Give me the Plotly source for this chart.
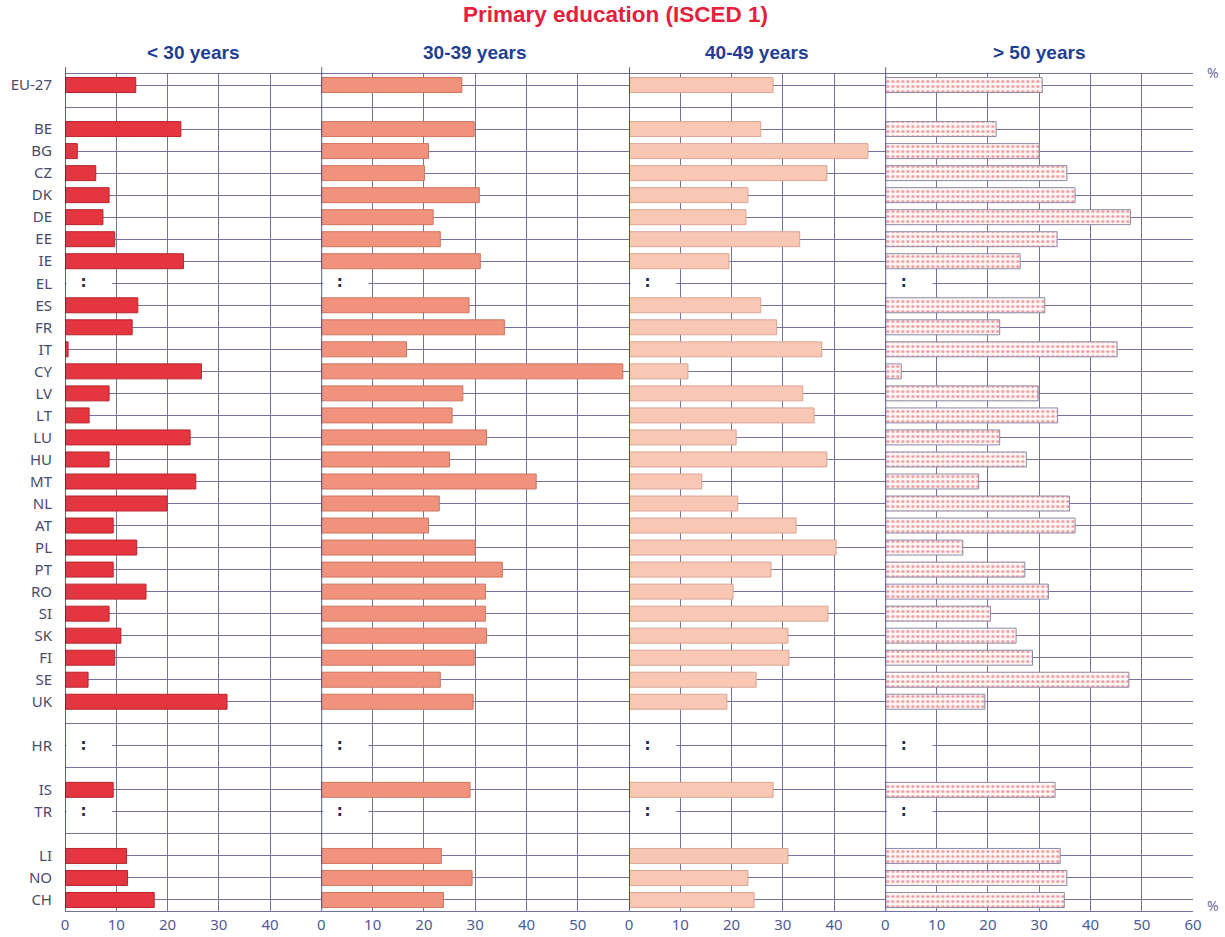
import plotly.graph_objects as go
from plotly.subplots import make_subplots

# ---------------- data ----------------
countries = ["EU-27", "", "BE", "BG", "CZ", "DK", "DE", "EE", "IE", "EL", "ES", "FR", "IT", "CY",
             "LV", "LT", "LU", "HU", "MT", "NL", "AT", "PL", "PT", "RO", "SI", "SK", "FI", "SE",
             "UK", "", "HR", "", "IS", "TR", "", "LI", "NO", "CH"]
missing = ["EL", "HR", "TR"]

age_groups = ["< 30 years", "30-39 years", "40-49 years", "> 50 years"]

under_30 = [13.8, None, 22.6, 2.4, 6.0, 8.6, 7.4, 9.7, 23.1, None, 14.2, 13.1, 0.6, 26.6,
            8.6, 4.7, 24.4, 8.6, 25.5, 19.9, 9.4, 14.0, 9.4, 15.8, 8.6, 10.9, 9.7, 4.5,
            31.6, None, None, None, 9.4, None, None, 12.0, 12.2, 17.4]
age_30_39 = [27.4, None, 29.8, 20.9, 20.1, 30.8, 21.8, 23.2, 31.0, None, 28.8, 35.7, 16.6, 58.8,
             27.6, 25.5, 32.2, 25.0, 41.9, 23.0, 20.9, 30.0, 35.3, 32.0, 32.0, 32.2, 29.8, 23.2,
             29.6, None, None, None, 29.0, None, None, 23.4, 29.4, 23.8]
age_40_49 = [28.1, None, 25.7, 46.6, 38.6, 23.2, 22.8, 33.3, 19.5, None, 25.7, 28.8, 37.6, 11.5,
             33.9, 36.1, 20.9, 38.6, 14.2, 21.2, 32.6, 40.4, 27.7, 20.3, 38.8, 31.0, 31.2, 24.8,
             19.1, None, None, None, 28.1, None, None, 31.0, 23.2, 24.4]
over_50 = [30.6, None, 21.6, 30.0, 35.4, 37.0, 47.8, 33.5, 26.3, None, 31.1, 22.3, 45.2, 3.1,
           29.8, 33.6, 22.3, 27.5, 18.2, 35.9, 37.0, 15.1, 27.2, 31.8, 20.5, 25.5, 28.7, 47.5,
           19.4, None, None, None, 33.1, None, None, 34.1, 35.4, 34.9]

series = [under_30, age_30_39, age_40_49, over_50]
axis_max = [50, 60, 50, 60]
tick_labels = [[0, 10, 20, 30, 40], [0, 10, 20, 30, 40, 50], [0, 10, 20, 30, 40],
               [0, 10, 20, 30, 40, 50, 60]]

# ---------------- styles ----------------
fills = ["#e5363f", "#f1937c", "#fac7b4", "#fff6f4"]
outlines = ["#b8242d", "#cf7561", "#d9a595", "#8c8aa6"]
grid_col = "#7473a0"
sep_col = "#2e3283"
label_col = "#474c6c"
tick_col = "#4f5b92"
header_col = "#1f3f93"
title_col = "#e3213d"

rows = list(range(len(countries)))
miss_rows = [r for r, c in zip(rows, countries) if c in missing]

fig = make_subplots(rows=1, cols=4, shared_yaxes=True, horizontal_spacing=0,
                    column_widths=axis_max)

for i, vals in enumerate(series):
    marker = dict(color=fills[i], line=dict(color=outlines[i], width=1))
    if i == 3:
        marker["pattern"] = dict(shape=".", fgcolor="#e0424c", bgcolor="#fff6f4",
                                 size=5, solidity=0.3, fillmode="overlay")
    fig.add_trace(go.Bar(x=vals, y=rows, orientation="h", width=0.68, marker=marker,
                         showlegend=False, hoverinfo="x+y"), row=1, col=i + 1)
    # white gap behind the ":" (not-available) marker
    fig.add_trace(go.Bar(x=[8.9] * len(miss_rows), base=[0.3] * len(miss_rows), y=miss_rows,
                         orientation="h", width=0.3,
                         marker=dict(color="white", line=dict(width=0)),
                         showlegend=False, hoverinfo="skip"), row=1, col=i + 1)
    fig.add_trace(go.Scatter(x=[3.6] * len(miss_rows), y=miss_rows, mode="text",
                             text=["<b>:</b>"] * len(miss_rows),
                             textfont=dict(family="DejaVu Sans", size=15, color="#262a44"),
                             showlegend=False, hoverinfo="skip"), row=1, col=i + 1)
    xref = "x" if i == 0 else f"x{i + 1}"
    # panel separator
    fig.add_shape(type="line", xref=xref, yref="paper", x0=0, x1=0, y0=0, y1=1.008,
                  line=dict(color=sep_col, width=1.6), layer="above")
    fig.add_annotation(text=f"<b>{age_groups[i]}</b>", xref=f"{xref} domain", yref="paper",
                       x=0.5, y=1.026, showarrow=False, yanchor="middle",
                       font=dict(family="Liberation Sans, Arial", size=19, color=header_col))
    fig.update_xaxes(range=[0, axis_max[i]], tickvals=tick_labels[i],
                     showgrid=True, gridcolor=grid_col, gridwidth=1,
                     showline=True, linecolor=grid_col, linewidth=1, mirror=True,
                     zeroline=False, ticks="", fixedrange=True, automargin=False,
                     tickfont=dict(family="Noto Sans", size=15, color=tick_col),
                     row=1, col=i + 1)

fig.update_yaxes(range=[len(countries) - 0.5, -0.5], tickvals=rows, ticktext=countries,
                 showgrid=True, gridcolor=grid_col, gridwidth=1, zeroline=False,
                 showline=False, ticks="outside", ticklen=9, tickcolor="rgba(0,0,0,0)",
                 automargin=False, fixedrange=True,
                 tickfont=dict(family="Noto Sans", size=15, color=label_col))

fig.add_annotation(text="<b>Primary education (ISCED 1)</b>", xref="paper", yref="paper",
                   x=0.4876, y=1.0705, showarrow=False, yanchor="middle",
                   font=dict(family="Liberation Sans, Arial", size=22.5, color=title_col))
for yy in [1.0012, 0.006]:
    fig.add_annotation(text="%", xref="paper", yref="paper", x=1.011, y=yy,
                       xanchor="left", yanchor="middle", showarrow=False,
                       font=dict(family="Noto Sans", size=14, color="#6d6d9b"))

fig.update_layout(width=1225, height=937, plot_bgcolor="white", paper_bgcolor="white",
                  margin=dict(l=65, r=32, t=74, b=26, autoexpand=False), barmode="overlay")

fig.write_html("out.html", config={"displayModeBar": False},
               post_script="document.body.style.margin='0';")
